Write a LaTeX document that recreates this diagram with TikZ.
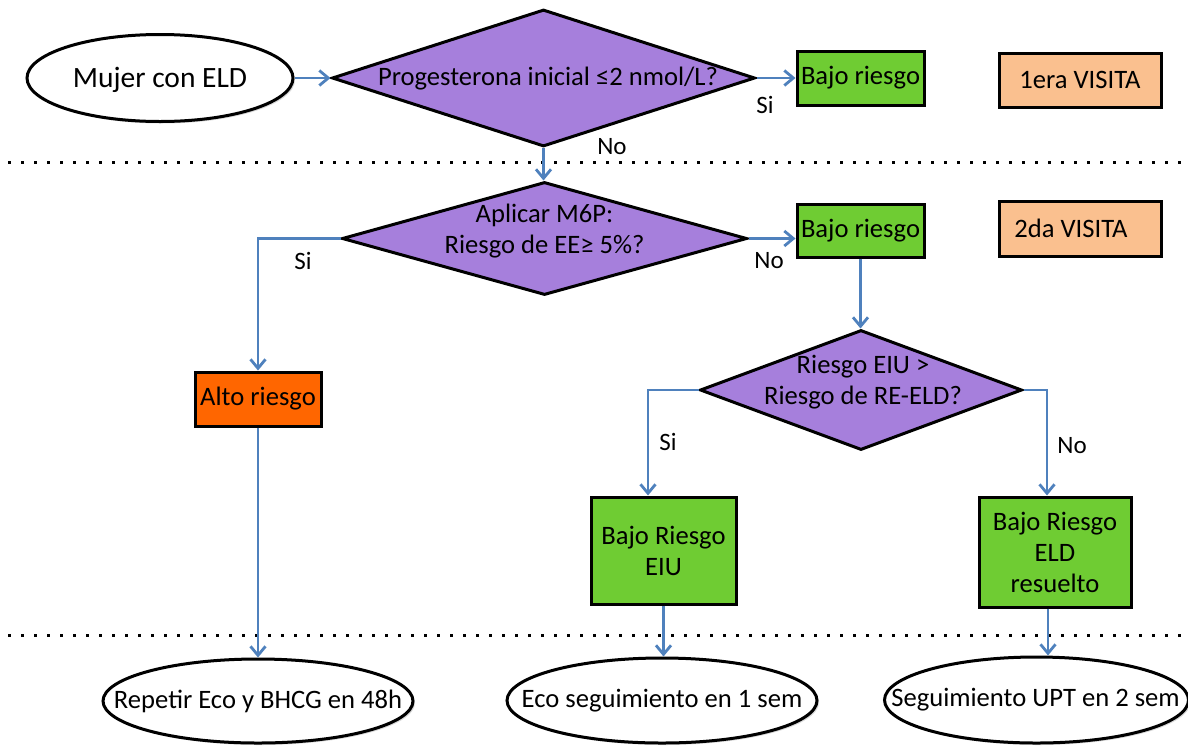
\documentclass[tikz,border=0pt]{standalone}
\usepackage{fontspec}
\setmainfont{Carlito}
\usetikzlibrary{arrows.meta,shapes.geometric,shadows}
\definecolor{cpurple}{HTML}{A67FDC}
\definecolor{cgreen}{HTML}{6FCC33}
\definecolor{corange}{HTML}{FF6600}
\definecolor{cpeach}{HTML}{FAC08F}
\definecolor{cblue}{HTML}{4F81BD}
\begin{document}
\begin{tikzpicture}[x=1pt,y=-1pt,
  txt/.style={font=\fontsize{26.6}{31}\selectfont, align=center, text=black},
  lbl/.style={font=\fontsize{25}{30}\selectfont, text=black, inner sep=0pt},
  shd/.style={drop shadow={opacity=0.3,shadow xshift=2pt,shadow yshift=-2pt}},
  box/.style={rectangle, draw=black, line width=3pt, inner sep=0pt, txt, shd},
  greenbox/.style={box, fill=cgreen},
  peachbox/.style={box, fill=cpeach},
  dia/.style={diamond, draw=black, line width=3pt, fill=cpurple, inner sep=0pt},
  ell/.style={ellipse, draw=black, line width=3pt, fill=white, inner sep=0pt, shd},
  arr/.style={draw=cblue, line width=2.8pt, -{Straight Barb[length=9pt,width=15pt]}},
  sepline/.style={line width=3pt, dash pattern=on 3pt off 10pt, black}]
\useasboundingbox (0,0) rectangle (1188,745);

% separators
\draw[sepline] (8,162) -- (1188,162);
\draw[sepline] (8,635) -- (1188,635);

% first visit
\node[ell, minimum width=266pt, minimum height=87pt,
  label={[txt, font=\fontsize{29.5}{34}\selectfont, yshift=-2pt]center:Mujer con ELD}] (m) at (160,78) {};
\node[dia, minimum width=423pt, minimum height=137pt,
  label={[txt, xshift=4.5pt, yshift=-1pt]center:Progesterona inicial ≤2 nmol/L?}] (d1) at (543.5,78) {};
\node[greenbox, minimum width=127pt, minimum height=54pt] (b1) at (860.5,78) {Bajo riesgo};
\node[peachbox, minimum width=162pt, minimum height=54pt] (v1) at (1080,80) {1era VISITA};

% second visit
\node[dia, minimum width=405pt, minimum height=113pt,
  label={[txt, yshift=7pt]center:{Aplicar M6P:\\Riesgo de EE≥ 5\%?}}] (d2) at (544.5,238.5) {};
\node[greenbox, minimum width=127pt, minimum height=53pt] (b2) at (860.5,230.5) {Bajo riesgo};
\node[peachbox, minimum width=162pt, minimum height=55pt] (v2) at (1080,228.5) {\hspace*{-18pt}2da VISITA};
\node[box, fill=corange, minimum width=126pt, minimum height=54pt] (alto) at (258,399) {Alto riesgo};
\node[dia, minimum width=322pt, minimum height=120pt,
  label={[txt, xshift=2pt, yshift=8pt]center:{Riesgo EIU >\\Riesgo de RE-ELD?}}] (d3) at (861,390) {};
\node[greenbox, minimum width=145pt, minimum height=107pt] (eiu) at (663.5,550.5) {Bajo Riesgo\\EIU};
\node[greenbox, minimum width=152pt, minimum height=110pt] (eld) at (1055,552) {Bajo Riesgo\\ELD\\resuelto};

% outcomes
\node[ell, minimum width=310pt, minimum height=84pt,
  label={[txt]center:Repetir Eco y BHCG en 48h}] (rep) at (258,701) {};
\node[ell, minimum width=310pt, minimum height=85pt,
  label={[txt]center:Eco seguimiento en 1 sem}] (eco) at (662,700.5) {};
\node[ell, minimum width=304pt, minimum height=86pt,
  label={[txt, xshift=-1pt]center:Seguimiento UPT en 2 sem}] (seg) at (1036.5,700) {};

% connector labels
\node[lbl] (lsi1) at (765,105) {Si};
\node[lbl] (lno1) at (612,147) {No};
\node[lbl] (lsi2) at (303,261) {Si};
\node[lbl] (lno2) at (769,261) {No};
\node[lbl] (lsi3) at (668,442) {Si};
\node[lbl] (lno3) at (1072,446) {No};

% connectors
\draw[arr] (m.east) -- (d1.west);
\draw[arr] (d1.east) -- (b1.west);
\draw[arr] (d1.south) -- (d1.south |- d2.north);
\draw[arr] (d2.east) -- (d2.east -| b2.west);
\draw[arr] (d2.west) -| (alto.north);
\draw[arr] (b2.south) -- (b2.south |- d3.north);
\draw[arr] (d3.west) -| ([xshift=-15.5pt]eiu.north);
\draw[arr] (d3.east) -| ([xshift=-8pt]eld.north);
\draw[arr] (alto.south) -- (alto.south |- rep.north);
\draw[arr] (eiu.south) -- (eiu.south |- eco.north);
\draw[arr] ([xshift=-7pt]eld.south) -- ([xshift=-7pt]eld.south |- seg.north);
\end{tikzpicture}
\end{document}
